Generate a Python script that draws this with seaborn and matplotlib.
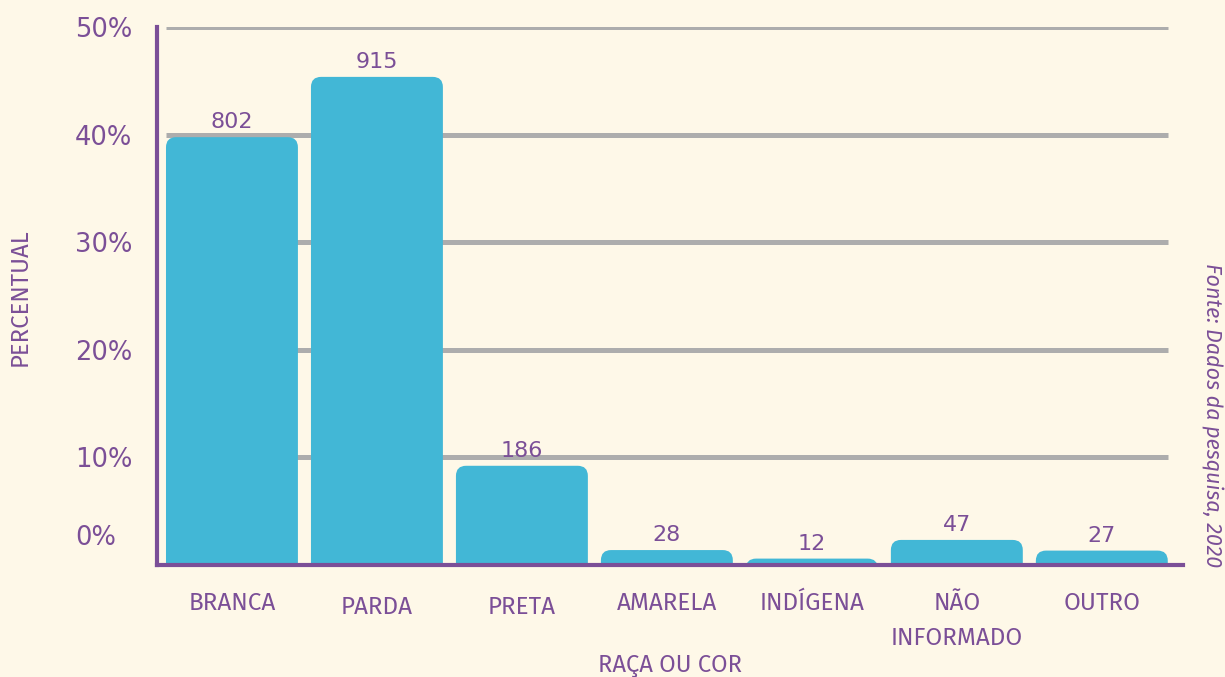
import matplotlib
matplotlib.use("Agg")
import matplotlib.pyplot as plt
from matplotlib.patches import FancyBboxPatch
from matplotlib.transforms import ScaledTranslation
import seaborn as sns
import pandas as pd

categories = ["BRANCA", "PARDA", "PRETA", "AMARELA", "INDÍGENA", "NÃO\nINFORMADO", "OUTRO"]
counts = [802, 915, 186, 28, 12, 47, 27]
y_ticks = [0, 10, 20, 30, 40, 50]
y_tick_labels = ["0%", "10%", "20%", "30%", "40%", "50%"]

total = sum(counts)
percents = [c / total * 100 for c in counts]
df = pd.DataFrame({"cat": categories, "pct": percents, "n": counts})

BG = "#FEF8E8"
BAR = "#42B7D6"
PURPLE = "#7B4F97"
GRID = "#ADADAD"
SANS = ["Fira Sans", "DejaVu Sans"]

sns.set_theme(style="white")
plt.rcParams["font.family"] = ["DejaVu Sans"]

fig = plt.figure(figsize=(12.25, 6.77), dpi=100, facecolor=BG)
W, H = 1225, 677
ax = fig.add_axes([157 / W, (677 - 565) / H, (1183 - 157) / W, (565 - 27) / H])
ax.set_facecolor(BG)

sns.barplot(data=df, x="cat", y="pct", color=BAR, width=0.91, saturation=1, ax=ax, zorder=3)

ax.set_xlim(-0.517, 6.56)
ax.set_ylim(0, 50)

# gridlines
ax.hlines(y_ticks[1:], -0.455, 6.455, colors=GRID, linewidth=3.6, zorder=1)

# rounded bars
r = 0.07
asp = (50 / 538) * 145
for p, n in zip(list(ax.patches), df["n"]):
    x0, w, h = p.get_x(), p.get_width(), p.get_height()
    p.set_visible(False)
    fb = FancyBboxPatch((x0, -2 * r * asp), w, h + 2 * r * asp,
                        boxstyle=f"round,pad=0,rounding_size={r}",
                        mutation_aspect=asp, facecolor=BAR, edgecolor="none",
                        zorder=3, clip_on=True)
    ax.add_patch(fb)
    ax.annotate(f"{n}", (x0 + w / 2, h), xytext=(0, 3.5),
                textcoords="offset points", ha="center", va="bottom",
                fontsize=16, color=PURPLE, zorder=5)

# spines
for s in ["top", "right"]:
    ax.spines[s].set_visible(False)
for s in ["left", "bottom"]:
    ax.spines[s].set_color(PURPLE)
    ax.spines[s].set_linewidth(3)
    ax.spines[s].set_zorder(4)

ax.set_yticks(y_ticks)
ax.set_yticklabels(y_tick_labels, fontsize=18.5, color=PURPLE)
ax.tick_params(axis="y", length=0, pad=59)
for lab in ax.get_yticklabels():
    lab.set_horizontalalignment("left")
zero_lab = ax.get_yticklabels()[0]
zero_lab.set_transform(zero_lab.get_transform() + ScaledTranslation(0, 0.30, fig.dpi_scale_trans))

ax.set_xticks(range(len(categories)))
ax.set_xticklabels(categories, fontsize=17.5, color=PURPLE, family=SANS, va="top", linespacing=1.65)
ax.tick_params(axis="x", length=0, pad=19)
for lab in ax.get_xticklabels()[1:3]:
    lab.set_transform(lab.get_transform() + ScaledTranslation(0, -0.04, fig.dpi_scale_trans))

ax.set_xlabel("")
ax.set_ylabel("")
fig.text(20 / W, 1 - 297 / H, "PERCENTUAL", rotation=90, ha="center", va="center",
         fontsize=17.3, color=PURPLE, family=SANS)
fig.text(670 / W, 1 - 665 / H, "RAÇA OU COR", ha="center", va="center",
         fontsize=17.2, color=PURPLE, family=SANS)
fig.text(1212 / W, 1 - 415 / H, "Fonte: Dados da pesquisa, 2020", rotation=-90,
         ha="center", va="center", fontsize=15.5, color=PURPLE, family=SANS, style="italic")

fig.savefig("out.png", dpi=100, facecolor=BG)
